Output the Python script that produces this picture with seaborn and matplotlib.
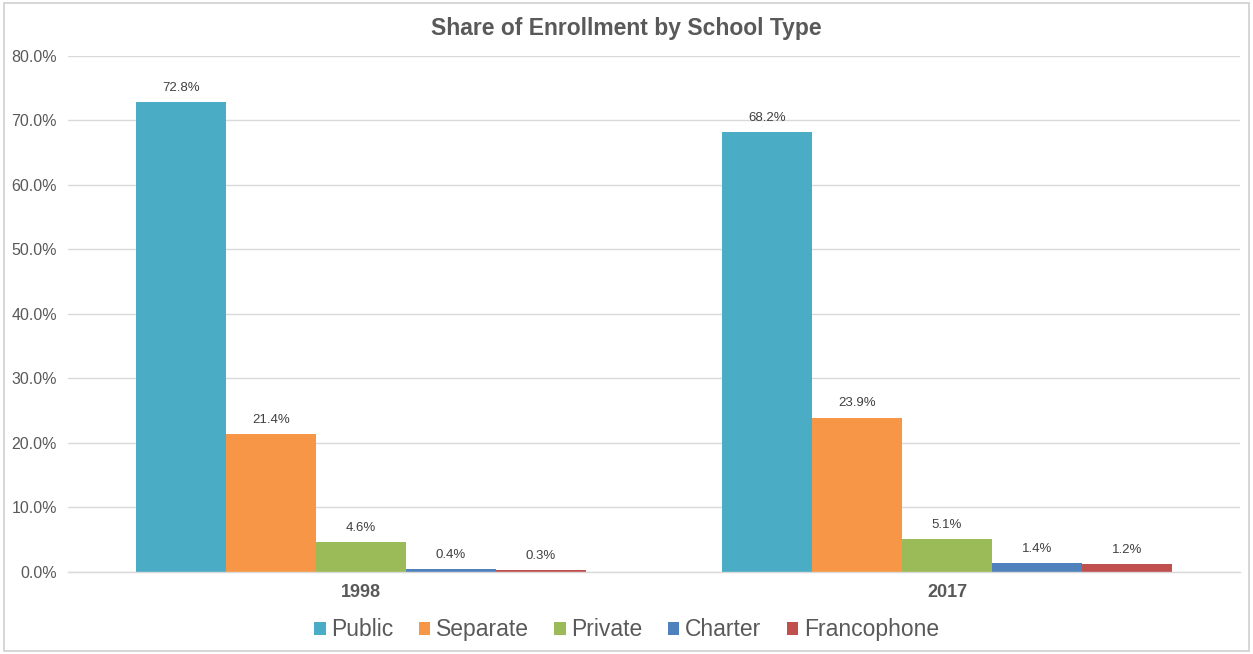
import matplotlib
matplotlib.use("Agg")
import matplotlib.pyplot as plt
import seaborn as sns
import pandas as pd
from matplotlib.patches import Rectangle

years = ["1998", "2017"]
school_types = ["Public", "Separate", "Private", "Charter", "Francophone"]
share_1998 = [72.8, 21.4, 4.6, 0.4, 0.3]
share_2017 = [68.2, 23.9, 5.1, 1.4, 1.2]
y_ticks = [0, 10, 20, 30, 40, 50, 60, 70, 80]
colors = ["#4BACC6", "#F79646", "#9BBB59", "#4F81BD", "#C0504D"]

rows = []
for year, vals in zip(years, [share_1998, share_2017]):
    for t, v in zip(school_types, vals):
        rows.append({"Year": year, "Type": t, "Share": v})
df = pd.DataFrame(rows)

sns.set_theme(style="white")
plt.rcParams["font.family"] = ["Liberation Sans", "DejaVu Sans"]

text_color = "#595959"
grid_color = "#D9D9D9"

fig = plt.figure(figsize=(12.53, 6.54), dpi=100)
ax = fig.add_axes([0.0543, 0.1254, 0.9353, 0.789])

sns.barplot(data=df, x="Year", y="Share", hue="Type", order=years,
            hue_order=school_types, palette=colors, saturation=1,
            width=0.768, linewidth=0, ax=ax, legend=True)

for cont in ax.containers:
    ax.bar_label(cont, fmt="%.1f%%", padding=6, fontsize=9.5, color="#404040")

ax.set_ylim(0, 80)
ax.set_xlim(-0.5, 1.5)
ax.set_yticks(y_ticks)
ax.set_yticklabels([f"{v:.1f}%" for v in y_ticks], color=text_color, fontsize=11.5)
ax.tick_params(axis="y", length=0, pad=8)
ax.tick_params(axis="x", length=0, pad=9)
for lab in ax.get_xticklabels():
    lab.set_fontweight("bold")
    lab.set_fontsize(13)
    lab.set_color(text_color)
ax.set_xlabel("")
ax.set_ylabel("")
ax.yaxis.grid(True, color=grid_color, linewidth=1)
ax.set_axisbelow(True)
for side in ["top", "right", "left"]:
    ax.spines[side].set_visible(False)
ax.spines["bottom"].set_color(grid_color)
ax.spines["bottom"].set_linewidth(1)

fig.text(0.5, 0.957, "Share of Enrollment by School Type", ha="center", va="center",
         fontsize=16.5, fontweight="bold", color=text_color)

handles, labels = ax.get_legend_handles_labels()
ax.legend(handles, labels, loc="center", bbox_to_anchor=(0.5, 0.037),
          bbox_transform=fig.transFigure, ncol=5, frameon=False,
          fontsize=16.5, labelcolor=text_color, handlelength=0.5, handleheight=0.5,
          handletextpad=0.25, columnspacing=1.1)

fig.patches.append(Rectangle((0.003, 0.005), 0.994, 0.99, transform=fig.transFigure,
                             fill=False, edgecolor="#D0D0D0", linewidth=1.2))

fig.savefig("out.png", dpi=100, facecolor="white")
